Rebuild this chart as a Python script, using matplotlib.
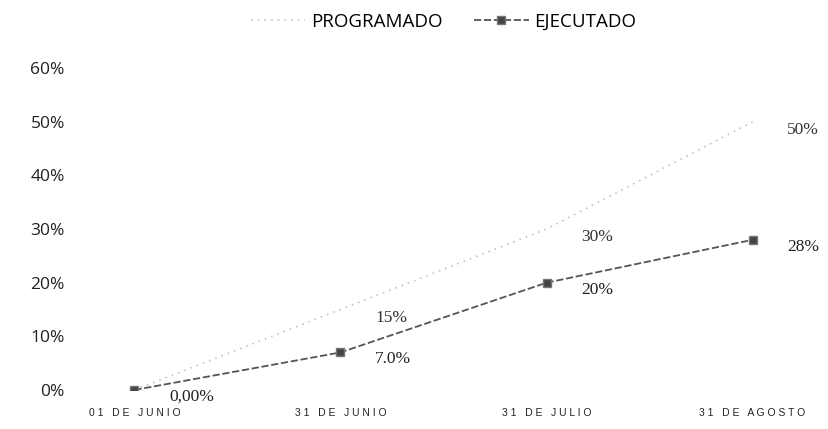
import numpy as np
import matplotlib.pyplot as plt
from matplotlib.ticker import FuncFormatter

# Avance del proyecto
fechas = ['01 DE JUNIO', '31 DE JUNIO', '31 DE JULIO', '31 DE AGOSTO']
programado = [0.00, 0.15, 0.30, 0.50]
ejecutado = [0.00, 0.07, 0.20, 0.28]
etiquetas_prog = ['', '15%', '30%', '50%']
etiquetas_ejec = ['0,00%', '7.0%', '20%', '28%']

x = np.arange(len(fechas))

fig = plt.figure(figsize=(8.29, 4.29), dpi=100)
ax = fig.add_axes([0.10, 0.091, 0.86, 0.75])

ax.plot(x, programado, color='#c4c4c4', linestyle=(0, (1, 3)), linewidth=1.2,
        label='PROGRAMADO')
ax.plot(x, ejecutado, color='#555555', linestyle=(0, (4, 1.5)), linewidth=1.3,
        marker='s', markersize=6, markerfacecolor='#444444',
        markeredgecolor='#777777', label='EJECUTADO')

# Etiquetas de datos
for xi, v, t in zip(x, programado, etiquetas_prog):
    if t:
        ax.annotate(t, (xi, v), xytext=(25, -6), textcoords='offset points',
                    family='Liberation Serif', fontsize=12.5, color='#333333',
                    ha='left', va='center')
for xi, v, t in zip(x, ejecutado, etiquetas_ejec):
    ax.annotate(t, (xi, v), xytext=(25, -5), textcoords='offset points',
                family='Liberation Serif', fontsize=12.5, color='#222222',
                ha='left', va='center')

ax.set_xlim(-0.25, 3.21)
ax.set_ylim(0, 0.6)
ax.set_yticks(np.arange(0, 0.61, 0.1))
ax.yaxis.set_major_formatter(FuncFormatter(lambda v, p: f'{v*100:.0f}%'))
ax.set_xticks(x)
ax.set_xticklabels([' '.join(f) for f in fechas], family='Liberation Sans',
                   fontsize=7.5, color='#222222')
ax.tick_params(axis='y', labelsize=12.5, colors='#222222', length=0, pad=13)
ax.tick_params(axis='x', length=0, pad=13)
for lab in ax.get_yticklabels():
    lab.set_family('Open Sans')
for s in ax.spines.values():
    s.set_visible(False)

fig.legend(loc='upper center', bbox_to_anchor=(0.535, 1.01), ncol=2, frameon=False,
           prop={'family': 'Open Sans', 'size': 13.5}, handlelength=2.9,
           handletextpad=0.3, columnspacing=1.7)

fig.savefig('out.png', dpi=100, facecolor='white')
